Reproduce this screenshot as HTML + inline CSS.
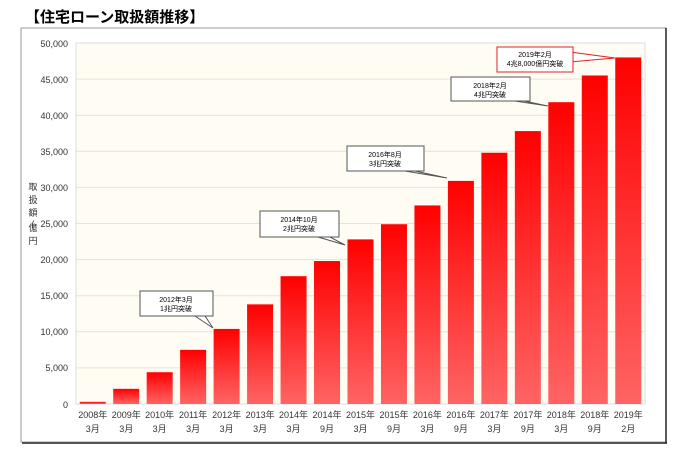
<!DOCTYPE html>
<html><head><meta charset="utf-8"><style>
body{margin:0;background:#fff;width:680px;height:465px;overflow:hidden}
svg text{font-family:"Liberation Sans","Noto Sans CJK JP",sans-serif}
</style></head><body>
<svg width="680" height="465" viewBox="0 0 680 465" xmlns="http://www.w3.org/2000/svg">
<defs>
<linearGradient id="g" x1="0" y1="0" x2="0" y2="1">
<stop offset="0" stop-color="#ff0000"/><stop offset="1" stop-color="#ff6464"/>
</linearGradient>
</defs>
<text x="25" y="22" font-size="15" font-weight="bold" fill="#000">【住宅ローン取扱額推移】</text>
<rect x="21" y="28" width="645" height="414" fill="#fff" stroke="#999" stroke-width="1"/>
<line x1="22" y1="443" x2="667" y2="443" stroke="#555" stroke-width="2"/>
<line x1="666" y1="28" x2="666" y2="443" stroke="#222" stroke-width="1.5"/>
<rect x="76" y="43" width="569" height="361" fill="#fffdf3" stroke="#ddd"/>
<g stroke="#e6e2d8" stroke-width="1">
<line x1="76" y1="79.1" x2="645" y2="79.1"/><line x1="76" y1="115.2" x2="645" y2="115.2"/>
<line x1="76" y1="151.3" x2="645" y2="151.3"/><line x1="76" y1="187.4" x2="645" y2="187.4"/>
<line x1="76" y1="223.5" x2="645" y2="223.5"/><line x1="76" y1="259.6" x2="645" y2="259.6"/>
<line x1="76" y1="295.7" x2="645" y2="295.7"/><line x1="76" y1="331.8" x2="645" y2="331.8"/>
<line x1="76" y1="367.9" x2="645" y2="367.9"/>
</g>
<g font-size="9" fill="#333" text-anchor="end">
<text x="68" y="47">50,000</text><text x="68" y="83">45,000</text><text x="68" y="119">40,000</text>
<text x="68" y="155">35,000</text><text x="68" y="191">30,000</text><text x="68" y="227">25,000</text>
<text x="68" y="263">20,000</text><text x="68" y="299">15,000</text><text x="68" y="335">10,000</text>
<text x="68" y="371">5,000</text><text x="68" y="408">0</text>
</g>
<g font-size="9" fill="#333" text-anchor="middle">
<text x="33" y="190">取</text><text x="33" y="203">扱</text><text x="33" y="216">額</text>
<text x="33" y="227">(</text><text x="33" y="231">億</text><text x="33" y="244">円</text>
</g>
<g id="bars" fill="url(#g)"></g>
<g id="labs" font-size="9" fill="#333" text-anchor="middle"></g>
<g font-size="7" fill="#000" text-anchor="middle">
<polygon points="195,316 213,328 205,316" fill="#fff" stroke="#555"/>
<rect x="140" y="291" width="73" height="25" fill="#fff" stroke="#555"/>
<text x="176" y="302">2012年3月</text><text x="176" y="311">1兆円突破</text>
<polygon points="318,237 345,245 330,237" fill="#fff" stroke="#555"/>
<rect x="260" y="211" width="79" height="26" fill="#fff" stroke="#555"/>
<text x="299" y="222">2014年10月</text><text x="299" y="231">2兆円突破</text>
<polygon points="405,171 447,178 415,171" fill="#fff" stroke="#555"/>
<rect x="347" y="146" width="77" height="25" fill="#fff" stroke="#555"/>
<text x="385" y="157">2016年8月</text><text x="385" y="166">3兆円突破</text>
<polygon points="515,101 548,106 524,101" fill="#fff" stroke="#555"/>
<rect x="451" y="77" width="79" height="24" fill="#fff" stroke="#555"/>
<text x="490" y="88">2018年2月</text><text x="490" y="97">4兆円突破</text>
<polygon points="570,52 615,58 570,62" fill="#fff" stroke="#e02020"/>
<rect x="497" y="47" width="76" height="25" fill="#fff" stroke="#e02020"/>
<text x="535" y="57">2019年2月</text><text x="535" y="66">4兆8,000億円突破</text>
</g>
</svg>
<script>
var v=[300,2100,4400,7500,10400,13800,17700,19800,22800,24900,27500,30900,34800,37800,41800,45500,48000];
var y=["2008","2009","2010","2011","2012","2013","2014","2014","2015","2015","2016","2016","2017","2017","2018","2018","2019"];
var m=["3","3","3","3","3","3","3","9","3","9","3","9","3","9","3","9","2"];
var ns="http://www.w3.org/2000/svg",b=document.getElementById("bars"),l=document.getElementById("labs");
for(var i=0;i<17;i++){var c=76+(i+0.5)*33.47,h=v[i]/50000*361;
var r=document.createElementNS(ns,"rect");r.setAttribute("x",c-13);r.setAttribute("y",404-h);r.setAttribute("width",26);r.setAttribute("height",h);b.appendChild(r);
var t=document.createElementNS(ns,"text");t.setAttribute("x",c);t.setAttribute("y",418);t.textContent=y[i]+"年";l.appendChild(t);
t=document.createElementNS(ns,"text");t.setAttribute("x",c);t.setAttribute("y",432);t.textContent=m[i]+"月";l.appendChild(t);}
</script>
</body></html>
